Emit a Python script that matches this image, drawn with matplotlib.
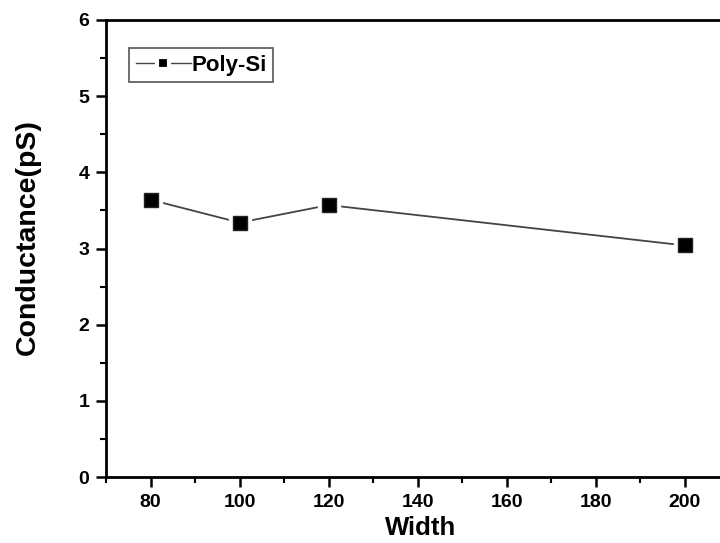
import matplotlib.pyplot as plt
from matplotlib.ticker import MultipleLocator
from matplotlib.lines import Line2D

plt.rcParams['font.family'] = ['Liberation Sans', 'DejaVu Sans']
plt.rcParams['font.weight'] = 'bold'

width = [80, 100, 120, 200]
conductance = [3.64, 3.34, 3.57, 3.04]
series_name = 'Poly-Si'

fig = plt.figure(figsize=(7.2, 5.43), dpi=100)
# axes runs past the right edge, like the cropped original
ax = fig.add_axes([106 / 720, 66 / 543, 623.5 / 720, 457 / 543])

ax.plot(width, conductance, '-', color='#444444', lw=1.3, zorder=2)
ax.plot(width, conductance, 's', color='white', ms=16, mec='white', ls='none', zorder=3)
ax.plot(width, conductance, 's', color='black', ms=10, mec='#222222', ls='none', zorder=4,
        label=series_name)

ax.set_xlim(70, 210)
ax.set_ylim(0, 6)
ax.xaxis.set_major_locator(MultipleLocator(20))
ax.xaxis.set_minor_locator(MultipleLocator(10))
ax.yaxis.set_major_locator(MultipleLocator(1))
ax.yaxis.set_minor_locator(MultipleLocator(0.5))
ax.set_xticks([80, 100, 120, 140, 160, 180, 200])

ax.tick_params(which='major', direction='out', length=7, width=1.8, labelsize=14, pad=5)
ax.tick_params(which='minor', direction='out', length=4, width=1.5)
for s in ax.spines.values():
    s.set_linewidth(2)

ax.set_xlabel('Width', fontsize=18.5, fontweight='bold', labelpad=3.5)
ax.xaxis.label.set_x(0.505)
ax.set_ylabel('Conductance(pS)', fontsize=20.5, fontweight='bold', va='center')
ax.yaxis.set_label_coords(-0.125, 0.525)

h = Line2D([], [], color='#444444', lw=1.0, marker='s', ms=8, mfc='black', mec='white', mew=3)
leg = ax.legend([h], [series_name], loc='upper left',
                bbox_to_anchor=(129 / 720, 1 - 48 / 543), bbox_transform=fig.transFigure,
                fancybox=False, edgecolor='#555555', framealpha=1, fontsize=16,
                handlelength=2.5, handletextpad=0.0, borderpad=0.3, borderaxespad=0)
leg.get_frame().set_linewidth(1.2)

fig.savefig('out.png', dpi=100)
